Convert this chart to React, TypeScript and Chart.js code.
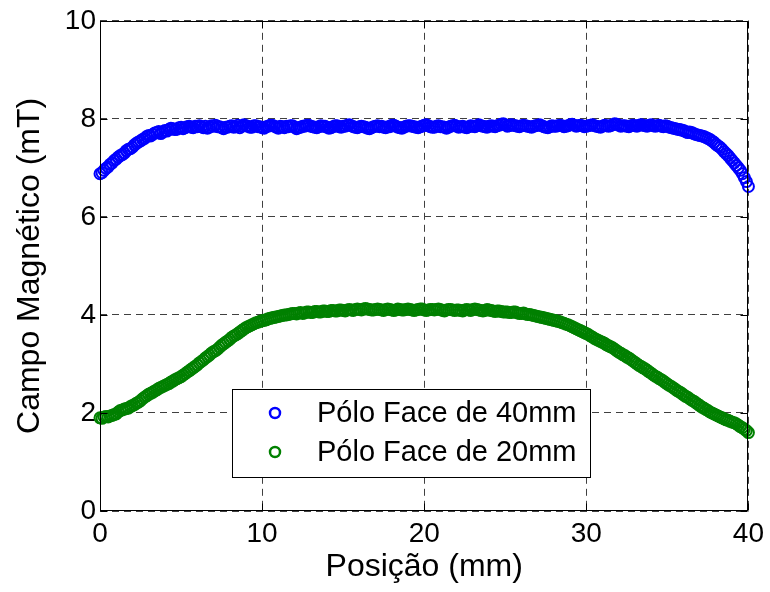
import React, { useEffect, useRef } from 'react';
import { Chart, registerables } from 'chart.js';
Chart.register(...registerables);

// Measurement span (mm); samples are evenly spaced over it
const X_MIN = 0;
const X_MAX = 40;

// Pólo Face de 40mm (mT)
const campo40 = [
  6.88, 6.90, 6.95, 6.99, 7.02, 7.07, 7.10, 7.15, 7.18, 7.22,
  7.25, 7.27, 7.30, 7.35, 7.38, 7.39, 7.42, 7.47, 7.50, 7.53,
  7.55, 7.58, 7.60, 7.64, 7.66, 7.65, 7.68, 7.71, 7.72, 7.74,
  7.70, 7.73, 7.76, 7.75, 7.78, 7.81, 7.80, 7.78, 7.79, 7.82,
  7.83, 7.80, 7.82, 7.84, 7.85, 7.83, 7.82, 7.85, 7.84,
  7.86, 7.84, 7.82, 7.85, 7.81, 7.83, 7.86, 7.85, 7.87, 7.84,
  7.84, 7.82, 7.80, 7.83, 7.83, 7.85, 7.86, 7.83, 7.84, 7.87,
  7.82, 7.85, 7.88, 7.86, 7.85, 7.83, 7.83, 7.86, 7.86, 7.84,
  7.84, 7.82, 7.81, 7.84, 7.85, 7.87, 7.87, 7.85, 7.83, 7.81,
  7.85, 7.84, 7.82, 7.85, 7.84, 7.86, 7.86, 7.83, 7.80, 7.82,
  7.83, 7.85, 7.85, 7.87, 7.87, 7.85, 7.84, 7.83, 7.82, 7.84,
  7.86, 7.85, 7.85, 7.83, 7.81, 7.82, 7.84, 7.86, 7.86, 7.84,
  7.83, 7.85, 7.85, 7.87, 7.88, 7.86, 7.84, 7.83, 7.82, 7.84,
  7.85, 7.84, 7.83, 7.81, 7.80, 7.82, 7.84, 7.85, 7.86, 7.84,
  7.85, 7.83, 7.82, 7.84, 7.84, 7.87, 7.87, 7.85, 7.83, 7.82,
  7.81, 7.83, 7.85, 7.86, 7.86, 7.85, 7.84, 7.83, 7.82, 7.84,
  7.85, 7.87, 7.88, 7.86, 7.84, 7.83, 7.83, 7.85, 7.86, 7.84,
  7.84, 7.83, 7.81, 7.83, 7.85, 7.86, 7.87, 7.85, 7.83, 7.84,
  7.85, 7.83, 7.82, 7.84, 7.86, 7.85, 7.84, 7.86, 7.88, 7.86,
  7.85, 7.84, 7.83, 7.85, 7.86, 7.85, 7.84, 7.86, 7.87, 7.89,
  7.90, 7.88, 7.85, 7.86, 7.88, 7.87, 7.86, 7.85, 7.84, 7.86,
  7.87, 7.86, 7.85, 7.84, 7.83, 7.85, 7.86, 7.87, 7.88, 7.86,
  7.84, 7.83, 7.82, 7.84, 7.86, 7.85, 7.85, 7.86, 7.87, 7.86,
  7.84, 7.85, 7.86, 7.88, 7.89, 7.87, 7.85, 7.86, 7.87, 7.86,
  7.84, 7.85, 7.86, 7.87, 7.88, 7.86, 7.85, 7.84, 7.83, 7.85,
  7.87, 7.86, 7.85, 7.86, 7.88, 7.90, 7.89, 7.87, 7.85, 7.86,
  7.86, 7.85, 7.84, 7.86, 7.87, 7.86, 7.85, 7.87, 7.88, 7.87,
  7.86, 7.85, 7.87, 7.88, 7.86, 7.85, 7.86, 7.87,
  7.85, 7.84, 7.86, 7.85, 7.83, 7.82, 7.81, 7.80, 7.79, 7.78,
  7.77, 7.76, 7.74, 7.72, 7.73, 7.72, 7.70, 7.68, 7.67, 7.66,
  7.65, 7.64, 7.62, 7.60, 7.58, 7.55, 7.52, 7.48, 7.45, 7.42,
  7.38, 7.33, 7.29, 7.25, 7.20, 7.15, 7.10, 7.05, 7.00, 6.95,
  6.88, 6.80, 6.72, 6.62,
];

// Pólo Face de 20mm (mT)
const campo20 = [
  1.90, 1.89, 1.92, 1.93, 1.92, 1.94, 1.95, 1.97, 1.98, 2.02,
  2.05, 2.06, 2.08, 2.09, 2.10, 2.13, 2.15, 2.17, 2.20, 2.22,
  2.25, 2.29, 2.32, 2.35, 2.38, 2.40, 2.42, 2.45, 2.47, 2.50,
  2.52, 2.54, 2.56, 2.58, 2.60, 2.63, 2.65, 2.68, 2.70, 2.72,
  2.74, 2.77, 2.80, 2.83, 2.86, 2.89, 2.92, 2.95, 2.98, 3.02,
  3.05, 3.08, 3.12, 3.15, 3.18, 3.22, 3.25, 3.27, 3.30, 3.34,
  3.38, 3.41, 3.44, 3.47, 3.50, 3.54, 3.57, 3.59, 3.62, 3.65,
  3.68, 3.71, 3.74, 3.76, 3.78, 3.80, 3.82, 3.84, 3.85, 3.87,
  3.88, 3.89, 3.90, 3.92, 3.93, 3.94, 3.95, 3.96, 3.97, 3.98,
  3.99, 4.00, 4.00, 4.01, 4.02, 4.03, 4.03,
  4.02, 4.04, 4.05, 4.03, 4.04, 4.06, 4.06, 4.05, 4.05, 4.07,
  4.07, 4.06, 4.06, 4.08, 4.08, 4.07, 4.07, 4.09, 4.09, 4.08,
  4.08, 4.10, 4.10, 4.09, 4.08, 4.10, 4.11, 4.10, 4.09, 4.11,
  4.12, 4.11, 4.10, 4.12, 4.13, 4.12, 4.11, 4.10, 4.10, 4.11,
  4.12, 4.11, 4.10, 4.09, 4.11, 4.12, 4.11, 4.10, 4.09, 4.10,
  4.12, 4.11, 4.10, 4.10, 4.11, 4.12, 4.11, 4.10, 4.09, 4.10,
  4.11, 4.12, 4.12, 4.10, 4.09, 4.10, 4.11, 4.11, 4.10, 4.11,
  4.12, 4.11, 4.09, 4.08, 4.10, 4.11, 4.11, 4.10, 4.09, 4.10,
  4.10, 4.09, 4.08, 4.10, 4.11, 4.10, 4.09, 4.11, 4.12, 4.11,
  4.10, 4.09, 4.08, 4.09, 4.11, 4.10, 4.09, 4.08, 4.07, 4.08,
  4.08, 4.07, 4.06, 4.06,
  4.06, 4.05, 4.05, 4.06, 4.06, 4.04, 4.03, 4.03, 4.04, 4.02,
  4.01, 4.01, 4.00, 3.99, 3.98, 3.97, 3.96, 3.95, 3.94, 3.93,
  3.92, 3.91, 3.90, 3.89, 3.88, 3.87, 3.86, 3.84, 3.83, 3.81,
  3.80, 3.78, 3.76, 3.74, 3.72, 3.70, 3.68, 3.66, 3.64, 3.62,
  3.60, 3.57, 3.55, 3.52, 3.50, 3.48, 3.46, 3.44, 3.42, 3.39,
  3.37, 3.35, 3.33, 3.30, 3.27, 3.24, 3.22, 3.19, 3.17, 3.14,
  3.12, 3.09, 3.06, 3.03, 3.00, 2.97, 2.95, 2.92, 2.90, 2.87,
  2.84, 2.81, 2.78, 2.75, 2.73, 2.70, 2.68, 2.65, 2.62, 2.59,
  2.56, 2.54, 2.51, 2.48, 2.45, 2.43, 2.40, 2.37, 2.34, 2.32,
  2.29, 2.26, 2.24, 2.21, 2.18, 2.15, 2.12, 2.10, 2.07, 2.05,
  2.02, 2.00, 1.98, 1.96, 1.94, 1.92, 1.90, 1.88, 1.86, 1.85,
  1.83, 1.81, 1.80, 1.78, 1.75, 1.72, 1.70, 1.67, 1.64, 1.60,
];

const seriesLabels = ['Pólo Face de 40mm', 'Pólo Face de 20mm'];
const seriesColors = ['rgb(0,0,255)', 'rgb(0,128,0)'];
const xTickValues = [0, 10, 20, 30, 40];
const yTickValues = [0, 2, 4, 6, 8, 10];
const xTitle = 'Posição (mm)';
const yTitle = 'Campo Magnético (mT)';

const FONT = "'Liberation Sans', Arial, Helvetica, sans-serif";

const toPoints = (vals: number[]) =>
  vals.map((v, i) => ({ x: X_MIN + (i * (X_MAX - X_MIN)) / (vals.length - 1), y: v }));

export default function App() {
  const ref = useRef<HTMLCanvasElement>(null);

  useEffect(() => {
    const canvas = ref.current;
    if (!canvas) return;

    const framePlugin = {
      id: 'frame',
      afterDraw(chart: any) {
        const { ctx, chartArea: a, scales } = chart;
        ctx.save();
        ctx.strokeStyle = '#000';
        ctx.lineWidth = 1;
        ctx.setLineDash([]);
        const L = Math.round(a.left) + 0.5;
        const R = Math.round(a.right) - 0.5;
        const T = Math.round(a.top) + 0.5;
        const B = Math.round(a.bottom) - 0.5;
        ctx.strokeRect(L, T, R - L, B - T);
        const tl = 7;
        ctx.beginPath();
        xTickValues.forEach((v) => {
          const px = Math.round(scales.x.getPixelForValue(v)) + 0.5;
          ctx.moveTo(px, B); ctx.lineTo(px, B - tl);
          ctx.moveTo(px, T); ctx.lineTo(px, T + tl);
        });
        yTickValues.forEach((v) => {
          const py = Math.round(scales.y.getPixelForValue(v)) + 0.5;
          ctx.moveTo(L, py); ctx.lineTo(L + tl, py);
          ctx.moveTo(R, py); ctx.lineTo(R - tl, py);
        });
        ctx.stroke();

        // legend
        const bx = 232.5, by = 389.5, bw = 358, bh = 88;
        ctx.fillStyle = '#fff';
        ctx.fillRect(bx, by, bw, bh);
        ctx.strokeStyle = '#000';
        ctx.lineWidth = 1;
        ctx.strokeRect(bx, by, bw, bh);
        const rows = [413, 452];
        seriesLabels.forEach((lab, i) => {
          ctx.beginPath();
          ctx.strokeStyle = seriesColors[i];
          ctx.lineWidth = 2.5;
          ctx.arc(275, rows[i], 5, 0, Math.PI * 2);
          ctx.stroke();
          ctx.fillStyle = '#000';
          ctx.font = `29px ${FONT}`;
          ctx.textBaseline = 'middle';
          ctx.textAlign = 'left';
          ctx.fillText(lab, 317, rows[i] + 1);
        });
        ctx.restore();
      },
    };

    const chart = new Chart(canvas, {
      type: 'scatter',
      data: {
        datasets: [campo40, campo20].map((vals, i) => ({
          label: seriesLabels[i],
          data: toPoints(vals),
          showLine: false,
          pointStyle: 'circle',
          pointRadius: 5.5,
          pointBorderWidth: 2,
          borderColor: seriesColors[i],
          backgroundColor: 'rgba(0,0,0,0)',
          pointBackgroundColor: 'rgba(0,0,0,0)',
          clip: false as any,
        })),
      },
      options: {
        responsive: false,
        animation: false,
        devicePixelRatio: 1,
        layout: { padding: { top: 18, right: 19, left: 0, bottom: 0 } },
        plugins: { legend: { display: false }, tooltip: { enabled: false } },
        scales: {
          x: {
            type: 'linear',
            min: 0,
            max: 40,
            afterFit: (s: any) => { s.height = 81; },
            afterBuildTicks: (s: any) => { s.ticks = xTickValues.map((v) => ({ value: v })); },
            ticks: { color: '#000', font: { family: FONT, size: 28 }, padding: 6, maxRotation: 0 },
            grid: { color: '#404040', lineWidth: 1, drawTicks: false },
            border: { display: false, dash: [7, 5] },
            title: { display: true, text: xTitle, color: '#000', font: { family: FONT, size: 32 }, padding: { top: 0, bottom: 6 } },
          },
          y: {
            type: 'linear',
            min: 0,
            max: 10,
            afterFit: (s: any) => { s.width = 100; },
            afterBuildTicks: (s: any) => { s.ticks = yTickValues.map((v) => ({ value: v })); },
            ticks: { color: '#000', font: { family: FONT, size: 28 }, padding: 4 },
            grid: { color: '#404040', lineWidth: 1, drawTicks: false },
            border: { display: false, dash: [7, 5] },
            title: { display: true, text: yTitle, color: '#000', font: { family: FONT, size: 32 }, padding: { top: 11, bottom: 0 } },
          },
        },
      },
      plugins: [framePlugin],
    } as any);

    return () => chart.destroy();
  }, []);

  return (
    <div style={{ position: 'fixed', left: 0, top: 0, width: 770, height: 592, background: '#fff' }}>
      <canvas ref={ref} width={770} height={592} style={{ display: 'block' }} />
    </div>
  );
}
